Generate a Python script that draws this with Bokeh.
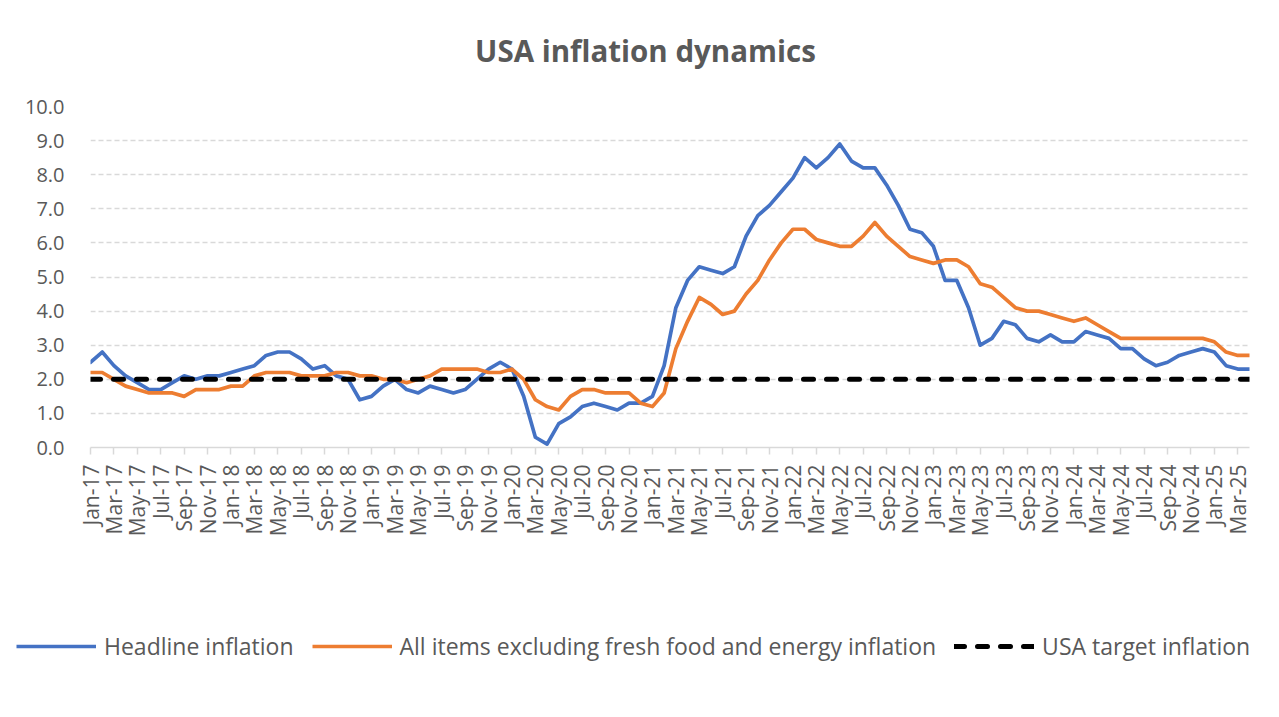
from math import pi
from bokeh.plotting import figure
from bokeh.layouts import column
from bokeh.models import (Range1d, FixedTicker, NumeralTickFormatter,
                          Legend, LegendItem, Label)
from bokeh.embed import file_html
from bokeh.resources import INLINE

months = [
    "Jan-17", "Feb-17", "Mar-17", "Apr-17", "May-17", "Jun-17", "Jul-17", "Aug-17", "Sep-17", "Oct-17", "Nov-17", "Dec-17",
    "Jan-18", "Feb-18", "Mar-18", "Apr-18", "May-18", "Jun-18", "Jul-18", "Aug-18", "Sep-18", "Oct-18", "Nov-18", "Dec-18",
    "Jan-19", "Feb-19", "Mar-19", "Apr-19", "May-19", "Jun-19", "Jul-19", "Aug-19", "Sep-19", "Oct-19", "Nov-19", "Dec-19",
    "Jan-20", "Feb-20", "Mar-20", "Apr-20", "May-20", "Jun-20", "Jul-20", "Aug-20", "Sep-20", "Oct-20", "Nov-20", "Dec-20",
    "Jan-21", "Feb-21", "Mar-21", "Apr-21", "May-21", "Jun-21", "Jul-21", "Aug-21", "Sep-21", "Oct-21", "Nov-21", "Dec-21",
    "Jan-22", "Feb-22", "Mar-22", "Apr-22", "May-22", "Jun-22", "Jul-22", "Aug-22", "Sep-22", "Oct-22", "Nov-22", "Dec-22",
    "Jan-23", "Feb-23", "Mar-23", "Apr-23", "May-23", "Jun-23", "Jul-23", "Aug-23", "Sep-23", "Oct-23", "Nov-23", "Dec-23",
    "Jan-24", "Feb-24", "Mar-24", "Apr-24", "May-24", "Jun-24", "Jul-24", "Aug-24", "Sep-24", "Oct-24", "Nov-24", "Dec-24",
    "Jan-25", "Feb-25", "Mar-25", "Apr-25",
]

headline = [
    2.5, 2.8, 2.4, 2.1, 1.9, 1.7, 1.7, 1.9, 2.1, 2.0,
    2.1, 2.1, 2.2, 2.3, 2.4, 2.7, 2.8, 2.8, 2.6, 2.3,
    2.4, 2.1, 2.0, 1.4, 1.5, 1.8, 2.0, 1.7, 1.6, 1.8,
    1.7, 1.6, 1.7, 2.0, 2.3, 2.5, 2.3, 1.5, 0.3, 0.1,
    0.7, 0.9, 1.2, 1.3, 1.2, 1.1, 1.3, 1.3, 1.5, 2.4,
    4.1, 4.9, 5.3, 5.2, 5.1, 5.3, 6.2, 6.8, 7.1, 7.5,
    7.9, 8.5, 8.2, 8.5, 8.9, 8.4, 8.2, 8.2, 7.7, 7.1,
    6.4, 6.3, 5.9, 4.9, 4.9, 4.1, 3.0, 3.2, 3.7, 3.6,
    3.2, 3.1, 3.3, 3.1, 3.1, 3.4, 3.3, 3.2, 2.9, 2.9,
    2.6, 2.4, 2.5, 2.7, 2.8, 2.9, 2.8, 2.4, 2.3, 2.3,
]

core = [
    2.2, 2.2, 2.0, 1.8, 1.7, 1.6, 1.6, 1.6, 1.5, 1.7,
    1.7, 1.7, 1.8, 1.8, 2.1, 2.2, 2.2, 2.2, 2.1, 2.1,
    2.1, 2.2, 2.2, 2.1, 2.1, 2.0, 2.0, 1.9, 2.0, 2.1,
    2.3, 2.3, 2.3, 2.3, 2.2, 2.2, 2.3, 2.0, 1.4, 1.2,
    1.1, 1.5, 1.7, 1.7, 1.6, 1.6, 1.6, 1.3, 1.2, 1.6,
    2.9, 3.7, 4.4, 4.2, 3.9, 4.0, 4.5, 4.9, 5.5, 6.0,
    6.4, 6.4, 6.1, 6.0, 5.9, 5.9, 6.2, 6.6, 6.2, 5.9,
    5.6, 5.5, 5.4, 5.5, 5.5, 5.3, 4.8, 4.7, 4.4, 4.1,
    4.0, 4.0, 3.9, 3.8, 3.7, 3.8, 3.6, 3.4, 3.2, 3.2,
    3.2, 3.2, 3.2, 3.2, 3.2, 3.2, 3.1, 2.8, 2.7, 2.7,
]

target_rate = 2.0
target = [target_rate for _ in months]

y_ticks = [0, 1, 2, 3, 4, 5, 6, 7, 8, 9, 10]
series_names = [
    "Headline inflation",
    "All items excluding fresh food and energy inflation",
    "USA target inflation",
]
chart_title = "USA inflation dynamics"

x = list(range(len(months)))

GRAY = "#595959"
FONT = "Open Sans"
BLUE = "#4472C4"
ORANGE = "#ED7D31"
W = 1263

# ---- title strip ----
tf = figure(
    frame_width=W, frame_height=90, min_border=0,
    x_range=Range1d(0, 1), y_range=Range1d(0, 1),
    x_axis_location=None, y_axis_location=None,
    output_backend="svg", toolbar_location=None,
    background_fill_color="white", border_fill_color="white",
    outline_line_color=None,
)
tf.grid.visible = False
tf.add_layout(Label(
    x=555, y=40, x_units="screen", y_units="screen",
    text=chart_title, text_font=FONT, text_font_style="bold",
    text_font_size="29.5px", text_color=GRAY,
    text_align="center", text_baseline="middle",
))

# ---- main chart ----
p = figure(
    frame_width=1159, frame_height=341,
    min_border_left=90, min_border_right=14, min_border_top=16, min_border_bottom=153,
    x_range=Range1d(0, len(months) - 1), y_range=Range1d(0, 10),
    output_backend="svg", toolbar_location=None,
    background_fill_color="white", border_fill_color="white",
    outline_line_color=None,
)

p.yaxis.ticker = FixedTicker(ticks=y_ticks)
p.yaxis.formatter = NumeralTickFormatter(format="0.0")
p.yaxis.axis_line_color = None
p.yaxis.major_tick_line_color = None
p.yaxis.minor_tick_line_color = None
p.yaxis.major_label_text_font = FONT
p.yaxis.major_label_text_font_size = "20px"
p.yaxis.major_label_text_color = GRAY
p.yaxis.major_label_standoff = 20

tick_pos = x[::2]
p.xaxis.ticker = FixedTicker(ticks=tick_pos)
p.xaxis.major_label_overrides = {i: months[i] for i in tick_pos}
p.xaxis.major_label_orientation = pi / 2
p.xaxis.axis_line_color = "#d9d9d9"
p.xaxis.axis_line_width = 1.5
p.xaxis.major_tick_line_color = "#d9d9d9"
p.xaxis.major_tick_line_width = 1.5
p.xaxis.major_tick_in = 0
p.xaxis.major_tick_out = 7
p.xaxis.minor_tick_line_color = None
p.xaxis.major_label_text_font = FONT
p.xaxis.major_label_text_font_size = "21px"
p.xaxis.major_label_text_color = GRAY
p.xaxis.major_label_standoff = 10

p.xgrid.grid_line_color = None
p.ygrid.ticker = FixedTicker(ticks=y_ticks)
p.ygrid.grid_line_color = "#d9d9d9"
p.ygrid.grid_line_width = 1.5
p.ygrid.grid_line_dash = "5 3"

p.line(x, headline, line_color=BLUE, line_width=3.7, line_join="round", line_cap="round")
p.line(x, core, line_color=ORANGE, line_width=3.7, line_join="round", line_cap="round")
p.line(x, target, line_color="black", line_width=5, line_dash="10 13", line_cap="round")

# ---- legend strip (same series, drawn outside its view; only swatches show) ----
lg = figure(
    frame_width=W, frame_height=101, min_border=0,
    x_range=Range1d(-20, -10), y_range=Range1d(0, 1),
    x_axis_location=None, y_axis_location=None,
    output_backend="svg", toolbar_location=None,
    background_fill_color="white", border_fill_color="white",
    outline_line_color=None,
)
lg.grid.visible = False
s1 = lg.line(x, headline, line_color=BLUE, line_width=3.7)
s2 = lg.line(x, core, line_color=ORANGE, line_width=3.7)
s3 = lg.line(x, target, line_color="black", line_width=5, line_dash="10 13", line_cap="round")

legend = Legend(
    items=[
        LegendItem(label=series_names[0], renderers=[s1]),
        LegendItem(label=series_names[1], renderers=[s2]),
        LegendItem(label=series_names[2], renderers=[s3]),
    ],
    orientation="horizontal",
    location=(16, 39),
    glyph_width=80, glyph_height=24,
    label_standoff=8, spacing=18, padding=0, margin=0,
    border_line_color=None, background_fill_alpha=0,
    label_text_font=FONT, label_text_font_size="23px", label_text_color=GRAY,
)
lg.add_layout(legend)

layout = column(tf, p, lg, spacing=0)

open("out.html", "w").write(file_html(layout, INLINE))
